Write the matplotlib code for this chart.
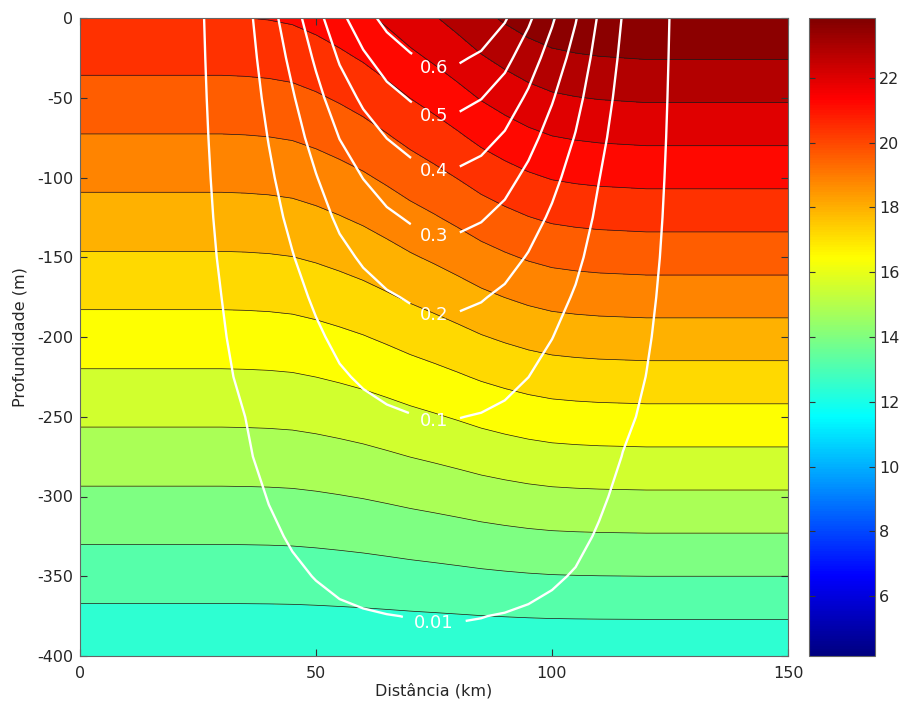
import numpy as np
import matplotlib.pyplot as plt
from matplotlib.colors import LinearSegmentedColormap, Normalize
from matplotlib.cm import ScalarMappable

plt.rcParams['font.family'] = ['DejaVu Sans']
plt.rcParams['font.size'] = 11.5
plt.rcParams['axes.unicode_minus'] = False

# section grid: distance (km) and depth (m)
dist_km = np.arange(0, 151, 5)
depth_m = np.arange(0, -401, -25)

# surface speed across the section (m/s), one value per distance node
surf_speed = [0, 0, 0, 0, 0, 0.002, 0.033, 0.07, 0.162, 0.257, 0.364,
              0.474, 0.56, 0.63, 0.68, 0.72, 0.71, 0.675, 0.61, 0.517, 0.413,
              0.306, 0.188, 0.095, 0.05, 0.009, 0.001, 0, 0, 0, 0]
# decay of the speed with depth, one value per depth node
speed_decay = [1.0, 0.865, 0.745, 0.637, 0.539, 0.454, 0.376, 0.304, 0.245,
               0.194, 0.143, 0.100, 0.066, 0.045, 0.029, 0.0152, 0.008]

# temperature profiles (deg C) at the coast side and the offshore side
temp_west = [21.18, 20.64, 20.09, 19.55, 19.00, 18.46, 17.92, 17.37, 16.83,
             16.29, 15.74, 15.20, 14.66, 14.11, 13.57, 13.03, 12.48]
temp_east = [24.37, 23.63, 22.89, 22.15, 21.41, 20.67, 19.93, 19.19, 18.44,
             17.70, 16.96, 16.22, 15.48, 14.74, 14.00, 13.26, 12.52]
# share of the offshore profile at each distance node
east_weight = [0, 0, 0, 0, 0, 0, 0, 0.005, 0.015, 0.035, 0.08, 0.14, 0.21, 0.30,
               0.40, 0.49, 0.59, 0.70, 0.79, 0.87, 0.93, 0.96, 0.98, 0.99,
               1, 1, 1, 1, 1, 1, 1]

temp_levels = [12.4, 13.2, 14.0, 14.8, 15.6, 16.4, 17.2, 18.0, 18.8, 19.6,
               20.4, 21.2, 22.0, 22.8, 23.6, 25.0]
speed_levels = [0.01, 0.1, 0.2, 0.3, 0.4, 0.5, 0.6]
color_limits = (4.15, 23.85)
cbar_ticks = [6, 8, 10, 12, 14, 16, 18, 20, 22]

speed = np.outer(speed_decay, surf_speed)
w = np.array(east_weight)
temp = np.outer(temp_west, 1 - w) + np.outer(temp_east, w)
X, Z = np.meshgrid(dist_km, depth_m)

# matlab style jet
jet = LinearSegmentedColormap.from_list(
    'matlab_jet', [(0, (0, 0, 0.5)), (1 / 8, (0, 0, 1)), (3 / 8, (0, 1, 1)),
                   (5 / 8, (1, 1, 0)), (7 / 8, (1, 0, 0)), (1, (0.5, 0, 0))], N=256)
norm = Normalize(*color_limits)
band_colors = [jet(norm(v)) for v in temp_levels[:-1]]

fig = plt.figure(figsize=(9.01, 7.07), dpi=100)
ax = fig.add_axes([80 / 901, 51 / 707, 708 / 901, 638 / 707])
cax = fig.add_axes([809 / 901, 51 / 707, 66 / 901, 638 / 707])

ax.contourf(X, Z, temp, levels=temp_levels, colors=band_colors)
ax.contour(X, Z, temp, levels=temp_levels[1:-1], colors='#1a1a1a', linewidths=0.5)
cs = ax.contour(X, Z, speed, levels=speed_levels, colors='white', linewidths=1.7)

# put each label at the bottom of its U
label_pts = []
for segs in cs.allsegs:
    v = np.concatenate(segs)
    xm = (v[:, 0].min() + v[:, 0].max()) / 2
    i = np.argmin(np.abs(v[:, 0] - xm))
    label_pts.append((v[i, 0], v[i, 1]))
labels = ax.clabel(cs, manual=label_pts, fmt=lambda s: f'{s:g}', fontsize=13,
                   colors='white', inline=True, inline_spacing=12)
for t in labels:
    t.set_rotation(0)

ax.set_xlim(0, 150)
ax.set_ylim(-400, 0)
ax.set_xticks([0, 50, 100, 150])
ax.set_yticks(np.arange(-400, 1, 50))
ax.tick_params(direction='in', length=5, top=True, right=True, colors='#333333',
               labelcolor='#262626')
ax.tick_params(axis='x', pad=7)
ax.tick_params(axis='y', pad=5)
for s in ax.spines.values():
    s.set_color('#666666')
    s.set_linewidth(0.8)
ax.set_xlabel('Distância (km)', color='#262626', labelpad=2)
ax.set_ylabel('Profundidade (m)', color='#262626', labelpad=7)

cb = fig.colorbar(ScalarMappable(norm=norm, cmap=jet), cax=cax, ticks=cbar_ticks)
cax.tick_params(direction='in', length=4, left=True, right=True, pad=3,
                colors='#333333', labelcolor='#262626')
cb.outline.set_edgecolor('#666666')
cb.outline.set_linewidth(0.8)

fig.savefig('out.png', dpi=100)
